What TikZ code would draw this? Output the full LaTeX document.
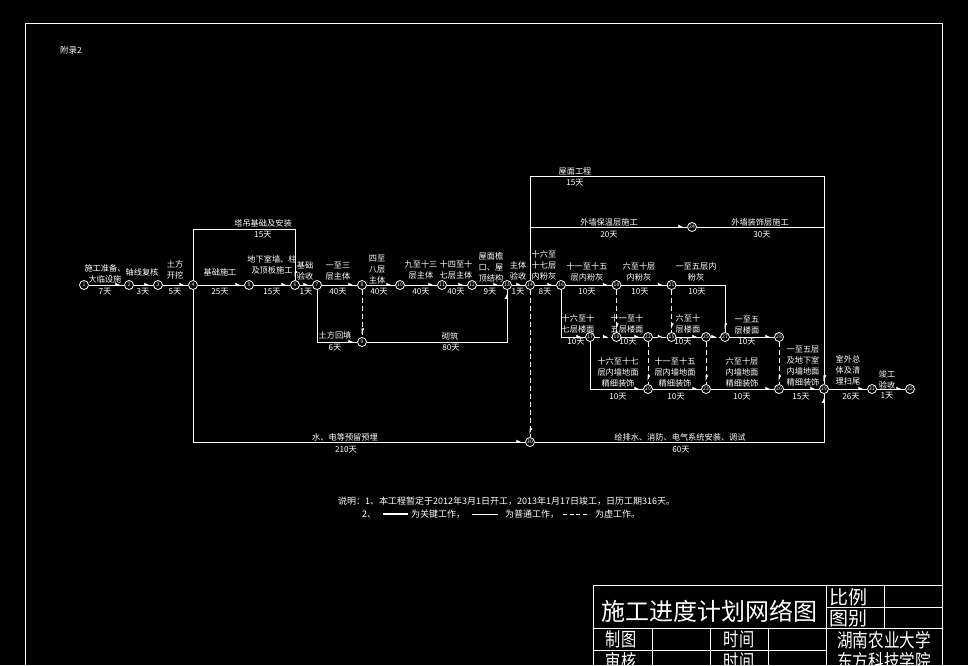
\documentclass[tikz,border=0pt]{standalone}
\usepackage{fontspec}
\setmainfont{Noto Sans CJK SC}
\usetikzlibrary{arrows.meta}
\tikzset{
  ln/.style={draw=white, line width=0.9pt},
  ev/.style={circle, draw=white, fill=black, line width=0.8pt, minimum size=9pt, inner sep=0pt, text=white, font=\fontsize{5}{5}\selectfont},
  job/.style={ln, postaction={draw=white, line width=0.9pt, shorten >=2.5pt, -{Latex[left,length=5pt,width=5pt]}}},
  dum/.style={job, dash pattern=on 5pt off 3pt},
  tx/.style={text=white, font=\fontsize{8.2}{11}\selectfont, align=center, inner sep=0pt},
  note/.style={text=white, font=\fontsize{9}{11}\selectfont, inner sep=0pt, anchor=west},
  tb/.style={text=white, inner sep=0pt},
}
\begin{document}
\begin{tikzpicture}[x=1pt,y=-1pt]
\useasboundingbox (0,0) rectangle (968,665);
\fill[black] (0,0) rectangle (968,665);
\clip (0,0) rectangle (968,665);
% frame
\draw[ln] (25,23) rectangle (942,720);
\node[tb, font=\fontsize{8.5}{9}\selectfont] (fl) at (71,50) {附录2};
% events
\node[ev] (n1) at (84,285) {1};
\node[ev] (n2) at (129,285) {2};
\node[ev] (n3) at (158,285) {3};
\node[ev] (n4) at (193,285) {4};
\node[ev] (n5) at (249,285) {5};
\node[ev] (n6) at (295,285) {6};
\node[ev] (n7) at (317,285) {7};
\node[ev] (n8) at (362,285) {8};
\node[ev] (n9) at (362,342) {9};
\node[ev] (n10) at (400,285) {10};
\node[ev] (n11) at (442,285) {11};
\node[ev] (n12) at (472,285) {12};
\node[ev] (n13) at (507,285) {13};
\node[ev] (n14) at (530,285) {14};
\node[ev] (n15) at (671.5,337) {15};
\node[ev] (n16) at (561,285) {16};
\node[ev] (n17) at (590,337) {17};
\node[ev] (n18) at (616.5,285) {18};
\node[ev] (n19) at (616.5,337) {19};
\node[ev] (n20) at (648,389) {20};
\node[ev] (n21) at (671.5,285) {21};
\node[ev] (n22) at (648,337) {22};
\node[ev] (n23) at (706,389) {23};
\node[ev] (n24) at (692,227) {24};
\node[ev] (n25) at (706,337) {25};
\node[ev] (n26) at (779,389) {26};
\node[ev] (n27) at (725,337) {27};
\node[ev] (n28) at (779,337) {28};
\node[ev] (n29) at (824,389) {29};
\node[ev] (n30) at (530,442) {30};
\node[ev] (n31) at (872,389) {31};
\node[ev] (n32) at (910,389) {32};
\coordinate (c1) at (295,229);
\coordinate (c2) at (824,176);
% main line
\draw[job] (n1) -- (n2);
\draw[job] (n2) -- (n3);
\draw[job] (n3) -- (n4);
\draw[job] (n4) -- (n5);
\draw[job] (n5) -- (n6);
\draw[job] (n6) -- (n7);
\draw[job] (n7) -- (n8);
\draw[job] (n8) -- (n10);
\draw[job] (n10) -- (n11);
\draw[job] (n11) -- (n12);
\draw[job] (n12) -- (n13);
\draw[job] (n13) -- (n14);
\draw[job] (n14) -- (n16);
\draw[job] (n16) -- (n18);
\draw[job] (n18) -- (n21);
\draw[job] (n4) |- (c1) -- (n6);
\draw[job] (n7) |- (n9);
\draw[dum] (n8) -- (n9);
\draw[job] (n9) -| (n13);
\draw[job] (n4) |- (n30);
\draw[dum] (n14) -- (n30);
\draw[job] (n30) -| (n29);
\draw[job] (n14) |- (c2) -- (n29);
\draw[job] (n14) |- (n24);
\draw[job] (n24) -| (n29);
% second row
\draw[job] (n16) |- (n17);
\draw[dum] (n17) -- (n19);
\draw[dum] (n18) -- (n19);
\draw[job] (n19) -- (n22);
\draw[dum] (n22) -- (n15);
\draw[dum] (n21) -- (n15);
\draw[job] (n15) -- (n25);
\draw[dum] (n25) -- (n27);
\draw[job] (n21) -| (n27);
\draw[job] (n27) -- (n28);
% third row
\draw[job] (n17) |- (n20);
\draw[dum] (n22) -- (n20);
\draw[job] (n20) -- (n23);
\draw[dum] (n25) -- (n23);
\draw[job] (n23) -- (n26);
\draw[dum] (n28) -- (n26);
\draw[job] (n26) -- (n29);
\draw[job] (n29) -- (n31);
\draw[job] (n31) -- (n32);
% main line labels
\node[tx] (a1) at (105,273.5) {施工准备、\\大临设施};
\node[tx] (b1) at (105,292) {7天};
\node[tx] (a2) at (142,272) {轴线复核};
\node[tx] (b2) at (143,292) {3天};
\node[tx] (a3) at (175,269.5) {土方\\开挖};
\node[tx] (b3) at (175,292) {5天};
\node[tx] (a4) at (220,272) {基础施工};
\node[tx] (b4) at (220,292) {25天};
\node[tx] (a5) at (272,265) {地下室墙、柱\\及顶板施工};
\node[tx] (b5) at (272,292) {15天};
\node[tx] (a6) at (305,270.5) {基础\\验收};
\node[tx] (b6) at (306,292) {1天};
\node[tx] (a7) at (338,271) {一至三\\层主体};
\node[tx] (b7) at (338,292) {40天};
\node[tx] (a8) at (377,270) {四至\\八层\\主体};
\node[tx] (b8) at (379,292) {40天};
\node[tx] (a9) at (421,269.5) {九至十三\\层主体};
\node[tx] (b9) at (421,292) {40天};
\node[tx] (a10) at (456,270) {十四至十\\七层主体};
\node[tx] (b10) at (456,292) {40天};
\node[tx] (a11) at (491,267) {屋面檐\\口、屋\\顶结构};
\node[tx] (b11) at (490,292) {9天};
\node[tx] (a12) at (518,270.5) {主体\\验收};
\node[tx] (b12) at (518,292) {1天};
\node[tx] (a13) at (544,265.7) {十六至\\十七层\\内粉灰};
\node[tx] (b13) at (545,292) {8天};
\node[tx] (a14) at (587,271.5) {十一至十五\\层内粉灰};
\node[tx] (b14) at (587,292) {10天};
\node[tx] (a15) at (639,271.5) {六至十层\\内粉灰};
\node[tx] (b15) at (640,292) {10天};
\node[tx] (a16) at (696,271.5) {一至五层内\\粉灰};
\node[tx] (b16) at (697,292) {10天};
% upper labels
\node[tx] (a17) at (263,223) {塔吊基础及安装};
\node[tx] (b17) at (263,235) {15天};
\node[tx] (a18) at (575,171) {屋面工程};
\node[tx] (b18) at (575,183) {15天};
\node[tx] (a19) at (609,222) {外墙保温层施工};
\node[tx] (b19) at (609,235) {20天};
\node[tx] (a20) at (760,222) {外墙装饰层施工};
\node[tx] (b20) at (762,235) {30天};
% lower labels
\node[tx] (a21) at (335,335) {土方回填};
\node[tx] (b21) at (335,348) {6天};
\node[tx] (a22) at (450,336) {砌筑};
\node[tx] (b22) at (451,348) {80天};
% second row labels
\node[tx] (a23) at (578,323.5) {十六至十\\七层楼面};
\node[tx] (b23) at (576,342) {10天};
\node[tx] (a24) at (627,323.5) {十一至十\\五层楼面};
\node[tx] (b24) at (628,342) {10天};
\node[tx] (a25) at (688,323.5) {六至十\\层楼面};
\node[tx] (b25) at (683,342) {10天};
\node[tx] (a26) at (747,325) {一至五\\层楼面};
\node[tx] (b26) at (747,342) {10天};
% third row labels
\node[tx] (a27) at (618,372) {十六至十七\\层内墙地面\\精细装饰};
\node[tx] (b27) at (618,397) {10天};
\node[tx] (a28) at (675,372) {十一至十五\\层内墙地面\\精细装饰};
\node[tx] (b28) at (676,397) {10天};
\node[tx] (a29) at (742,372) {六至十层\\内墙地面\\精细装饰};
\node[tx] (b29) at (742,397) {10天};
\node[tx] (a30) at (803,366.5) {一至五层\\及地下室\\内墙地面\\精细装饰};
\node[tx] (b30) at (801,397) {15天};
\node[tx] (a31) at (848,370) {室外总\\体及清\\理扫尾};
\node[tx] (b31) at (851,397) {26天};
\node[tx] (a32) at (887,379.5) {竣工\\验收};
\node[tx] (b32) at (887,396) {1天};
% bottom labels
\node[tx] (a33) at (345,437) {水、电等预留预埋};
\node[tx] (b33) at (346,450) {210天};
\node[tx] (a34) at (680,437) {给排水、消防、电气系统安装、调试};
\node[tx] (b34) at (681,450) {60天};
% notes
\node[note] (m1) at (338,501) {说明：1、本工程暂定于2012年3月1日开工，2013年1月17日竣工，日历工期316天。};
\node[note] (m2) at (362,514) {2、};
\draw[white, line width=1.2pt] (383,514) -- (408,514);
\node[note] (m3) at (411,514) {为关键工作，};
\draw[white, line width=0.8pt] (472,514) -- (498,514);
\node[note] (m4) at (505,514) {为普通工作，};
\draw[white, line width=0.8pt, dash pattern=on 4pt off 2.5pt] (563,514) -- (589,514);
\node[note] (m5) at (595,514) {为虚工作。};
% title block
\draw[ln] (593,585) -- (942,585);
\draw[ln] (593,585) -- (593,720);
\draw[ln] (826,585) -- (826,720);
\draw[ln] (826,607) -- (942,607);
\draw[ln] (884,585) -- (884,628);
\draw[ln] (593,628) -- (942,628);
\draw[ln] (593,650) -- (826,650);
\draw[ln] (652,628) -- (652,720);
\draw[ln] (710,628) -- (710,720);
\draw[ln] (768,628) -- (768,720);
\node[tb, font=\fontsize{24}{24}\selectfont] (t1) at (709,611) {施工进度计划网络图};
\node[tb, font=\fontsize{19}{19}\selectfont] (t2) at (848,597) {比例};
\node[tb, font=\fontsize{19}{19}\selectfont] (t3) at (848,618) {图别};
\node[tb, font=\fontsize{19}{19}\selectfont] (t4) at (621,639) {\scalebox{0.8}[1]{制图}};
\node[tb, font=\fontsize{19}{19}\selectfont] (t5) at (739,639) {\scalebox{0.8}[1]{时间}};
\node[tb, font=\fontsize{19}{19}\selectfont] (t6) at (621,661) {\scalebox{0.8}[1]{审核}};
\node[tb, font=\fontsize{19}{19}\selectfont] (t7) at (739,661) {\scalebox{0.8}[1]{时间}};
\node[tb, font=\fontsize{19}{19}\selectfont] (t8) at (884,640) {\scalebox{0.82}[1]{湖南农业大学}};
\node[tb, font=\fontsize{19}{19}\selectfont] (t9) at (884,661) {\scalebox{0.82}[1]{东方科技学院}};
\end{tikzpicture}
\end{document}
